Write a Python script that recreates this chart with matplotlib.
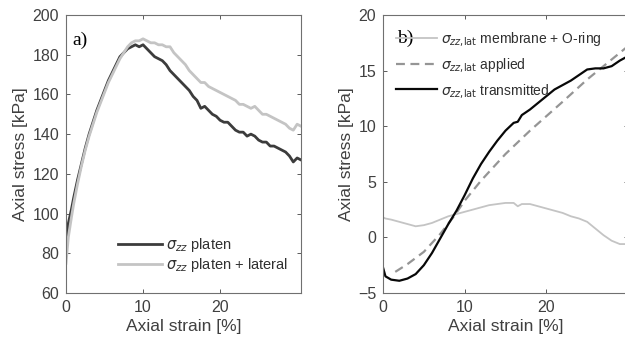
import numpy as np
import matplotlib
matplotlib.use('Agg')
import matplotlib.pyplot as plt

plt.rcParams['font.family'] = ['Liberation Sans', 'DejaVu Sans']
plt.rcParams['mathtext.fontset'] = 'dejavusans'

# panel a) data, strain [%] vs axial stress [kPa]
strain_a = [0, 0.3, 0.7, 1, 1.5, 2, 2.5, 3, 3.5, 4, 4.5, 5, 5.5, 6, 6.5, 7, 7.5, 8, 8.5, 9, 9.5, 10,
            10.5, 11, 11.5, 12, 12.5, 13, 13.5, 14, 14.5, 15, 15.5, 16, 16.5, 17, 17.5, 18, 18.5, 19,
            19.5, 20, 20.5, 21, 21.5, 22, 22.5, 23, 23.5, 24, 24.5, 25, 25.5, 26, 26.5, 27, 27.5, 28,
            28.5, 29, 29.5, 30, 30.5]
platen = [87, 95, 102, 108, 117, 125, 133, 140, 146, 152, 157, 162, 167, 171, 175, 179, 181, 183, 184, 185, 184, 185,
          183, 181, 179, 178, 177, 175, 172, 170, 168, 166, 164, 162, 159, 157, 153, 154, 152, 150,
          149, 147, 146, 146, 144, 142, 141, 141, 139, 140, 139, 137, 136, 136, 134, 134, 133, 132,
          131, 129, 126, 128, 127]
platen_lat = [75, 88, 98, 105, 115, 124, 132, 139, 145, 151, 156, 161, 166, 170, 174, 178, 181, 184, 186, 187, 187, 188,
              187, 186, 186, 185, 185, 184, 184, 181, 179, 177, 175, 172, 170, 168, 166, 166, 164, 163,
              162, 161, 160, 159, 158, 157, 155, 155, 154, 153, 154, 152, 150, 150, 149, 148, 147, 146,
              145, 143, 142, 145, 144]

# panel b) data
strain_b = [0, 0.3, 1, 2, 3, 4, 5, 6, 7, 8, 9, 10, 11, 12, 13, 14, 15, 16, 16.5, 17, 18, 19, 20,
            21, 22, 23, 24, 25, 26, 27, 28, 29, 30]
membrane = [1.8, 1.7, 1.6, 1.4, 1.2, 1.0, 1.1, 1.3, 1.6, 1.9, 2.1, 2.3, 2.5, 2.7, 2.9, 3.0, 3.1, 3.1, 2.8,
            3.0, 3.0, 2.8, 2.6, 2.4, 2.2, 1.9, 1.7, 1.4, 0.8, 0.2, -0.3, -0.6, -0.6]
transmitted = [-2.7, -3.5, -3.8, -3.9, -3.7, -3.3, -2.5, -1.4, -0.1, 1.2, 2.4, 3.8, 5.3, 6.6, 7.7, 8.7,
               9.6, 10.3, 10.4, 11.0, 11.5, 12.1, 12.7, 13.3, 13.7, 14.1, 14.6, 15.1, 15.2, 15.2, 15.4,
               15.9, 16.3]
strain_app = [1.5, 3, 5, 7, 8.7, 10, 12, 15, 18, 20, 22, 25, 28, 30]
applied = [-3.1, -2.4, -1.3, 0.3, 1.9, 3.3, 5.1, 7.5, 9.6, 10.9, 12.2, 14.2, 16.0, 17.2]

grey = '#404040'
sub = r'$\sigma_{zz{,}\mathrm{lat}}$'

fig = plt.figure(figsize=(6.25, 3.44), dpi=100)
ax1 = fig.add_axes([66 / 625, 1 - 293 / 344, 235 / 625, 278 / 344])
ax2 = fig.add_axes([383 / 625, 1 - 293 / 344, 245 / 625, 278 / 344])

ax1.plot(strain_a, platen, color='#3c3c3c', lw=2, label=r'$\sigma_{zz}$ platen')
ax1.plot(strain_a, platen_lat, color='#c4c4c4', lw=2, label=r'$\sigma_{zz}$ platen + lateral')
ax1.set_xlim(0, 30.5)
ax1.set_ylim(60, 200)
ax1.set_xticks([0, 10, 20])
ax1.set_yticks(range(60, 201, 20))
ax1.text(0.8, 187.4, 'a)', family='Liberation Serif', fontsize=14, va='center')
ax1.legend(loc='lower right', frameon=False, handlelength=3.0, fontsize=10.5,
           bbox_to_anchor=(1.0, 0.02), labelspacing=0.15, handletextpad=0.3,
           labelcolor='#303030')
ax1.set_xlabel('Axial strain [%]', fontsize=12.5, color=grey, labelpad=3)
ax1.set_ylabel('Axial stress [kPa]', fontsize=12.5, color=grey, labelpad=3)

ax2.plot(strain_b, membrane, color='#c4c4c4', lw=1.3, label=sub + ' membrane + O-ring')
ax2.plot(strain_app, applied, color='#959595', lw=1.6, ls=(0, (4, 2.5)), label=sub + ' applied')
ax2.plot(strain_b, transmitted, color='#080808', lw=1.6, label=sub + ' transmitted')
ax2.set_xlim(0, 30)
ax2.set_ylim(-5, 20)
ax2.set_xticks([0, 10, 20])
ax2.set_yticks(range(-5, 21, 5))
ax2.text(1.7, 17.9, 'b)', family='Liberation Serif', fontsize=14, va='center')
ax2.legend(loc='upper left', frameon=False, handlelength=3.0, fontsize=10,
           bbox_to_anchor=(0.0, 0.99), labelspacing=0.55, handletextpad=0.3,
           labelcolor='#303030')
ax2.set_xlabel('Axial strain [%]', fontsize=12.5, color=grey, labelpad=3)
ax2.set_ylabel('Axial stress [kPa]', fontsize=12.5, color=grey, labelpad=3)

for ax in (ax1, ax2):
    ax.tick_params(direction='in', top=True, right=True, labelsize=11.5, colors=grey,
                   length=3, width=0.6, pad=5)
    for sp in ax.spines.values():
        sp.set_color('#707070')
        sp.set_linewidth(0.8)

plt.savefig('out.png', dpi=100)
